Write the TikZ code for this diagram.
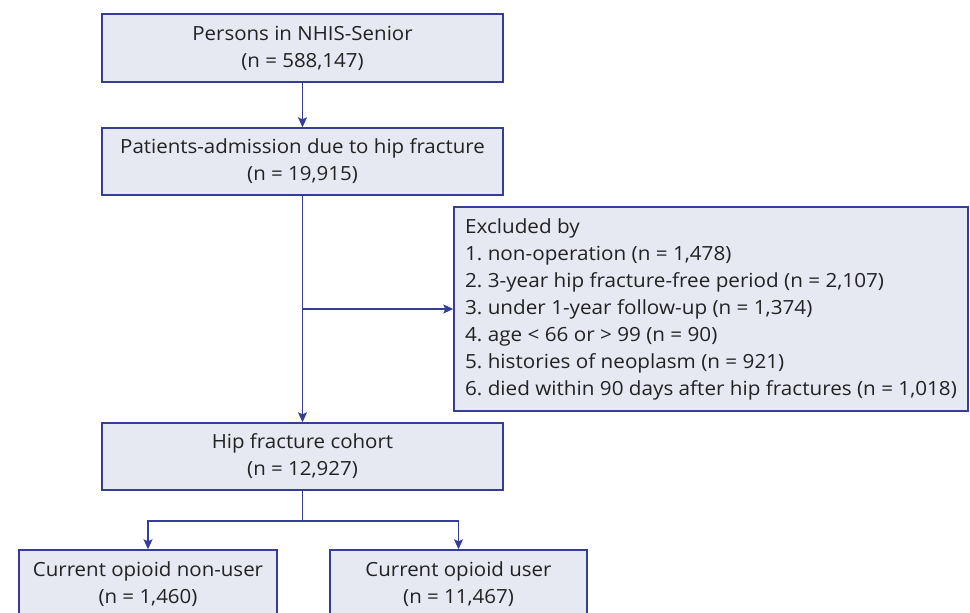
\documentclass[tikz,border=0pt]{standalone}
\usepackage{fontspec}
\setmainfont{Open Sans}[FakeStretch=1.05]
\newfontfamily\exclfont{Open Sans}[FakeStretch=1.06]
\usepackage{tikz}
\usetikzlibrary{arrows.meta}
\frenchspacing
\definecolor{boxbg}{RGB}{230,233,242}
\definecolor{boxborder}{RGB}{52,62,150}
\definecolor{txt}{RGB}{34,34,34}
\tikzstyle{flowbox} = [rectangle, draw=boxborder, fill=boxbg, line width=1.4pt, text=txt, align=center, font=\fontsize{19.5}{27}\selectfont, inner sep=0pt]
\tikzstyle{arrow} = [draw=boxborder, line width=1.4pt, -{Stealth[length=10pt,width=9pt,inset=2pt]}]
\tikzstyle{line} = [draw=boxborder, line width=1.4pt]

\begin{document}
\begin{tikzpicture}[x=1pt,y=-1pt]
\useasboundingbox (0,0) rectangle (970,613);
\node[flowbox, minimum width=401pt, minimum height=68pt] (persons) at (302.5,48) {Persons in NHIS-Senior\\(n = 588,147)};
\node[flowbox, minimum width=401pt, minimum height=67pt] (admission) at (302.5,161.5) {Patients-admission due to hip fracture\\(n = 19,915)};
\node[flowbox, minimum width=514pt, minimum height=204pt, align=left, font=\exclfont\fontsize{19.5}{27}\selectfont] (excluded) at (711,309) {Excluded by\\1. non-operation (n = 1,478)\\2. 3-year hip fracture-free period (n = 2,107)\\3. under 1-year follow-up (n = 1,374)\\4. age < 66 or > 99 (n = 90)\\5. histories of neoplasm (n = 921)\\6. died within 90 days after hip fractures (n = 1,018)};
\node[flowbox, minimum width=401pt, minimum height=67pt] (cohort) at (302.5,456.5) {Hip fracture cohort\\(n = 12,927)};
\node[flowbox, minimum width=258pt, minimum height=68pt] (nonuser) at (148,584) {Current opioid non-user\\(n = 1,460)};
\node[flowbox, minimum width=257pt, minimum height=68pt] (user) at (458.5,584) {Current opioid user\\(n = 11,467)};

\coordinate (branch) at (302.5,309);
\coordinate (split) at (302.5,521);

\draw[arrow] (persons) -- (admission);
\draw[arrow] (admission) -- (cohort);
\draw[arrow] (branch) -- (excluded);
\draw[line] (cohort) -- (split);
\draw[arrow] (split) -| (nonuser);
\draw[arrow] (split) -| (user);
\end{tikzpicture}
\end{document}
